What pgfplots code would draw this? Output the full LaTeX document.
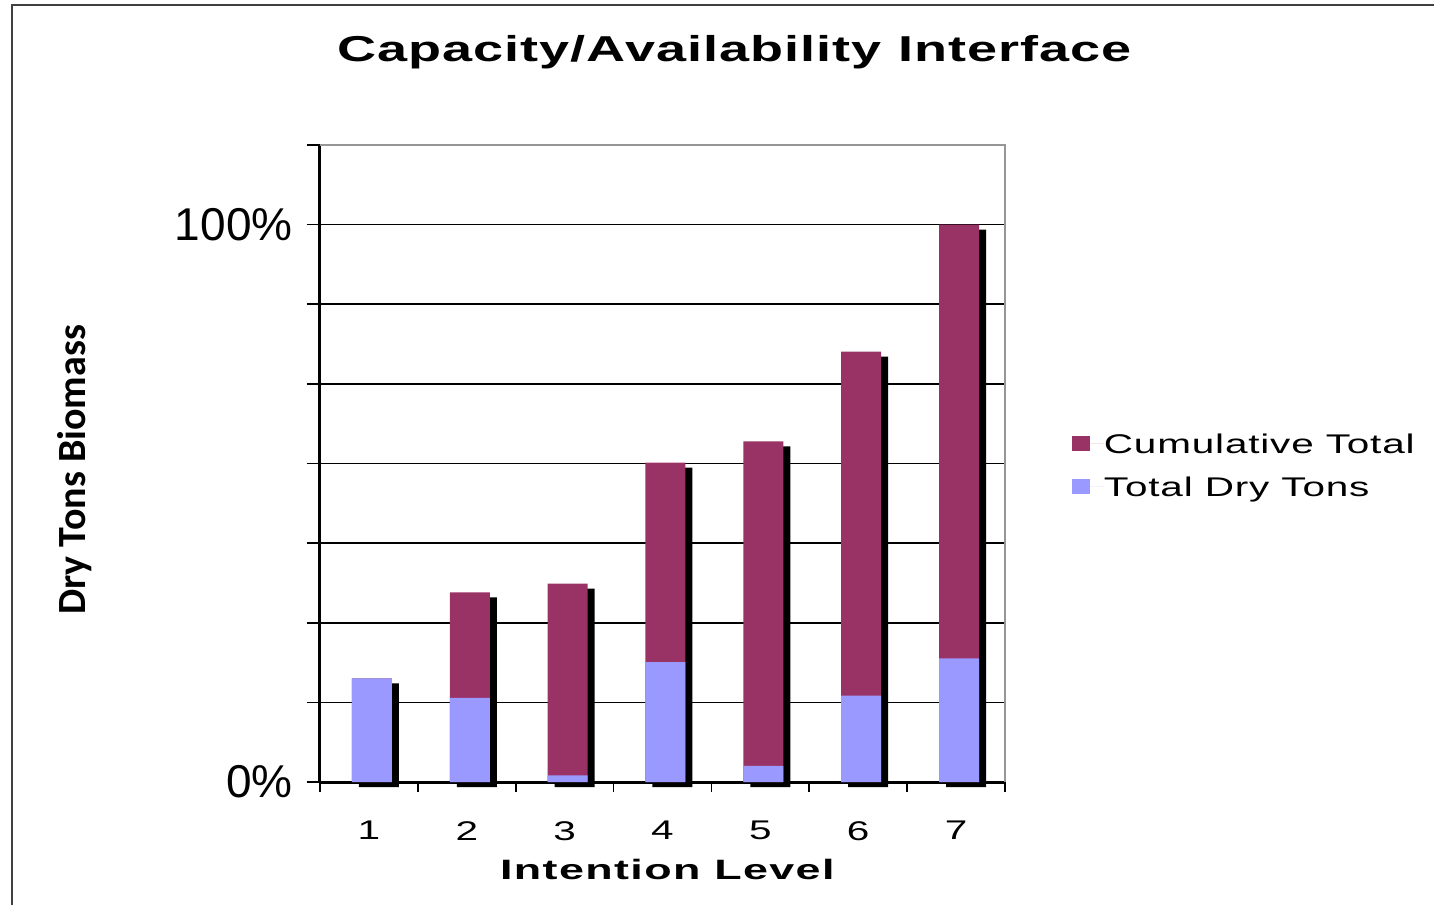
\documentclass[border=0pt]{standalone}
\usepackage{pgfplots}
\pgfplotsset{compat=1.18}
\usepackage{fontspec}
\setmainfont{Liberation Sans}
\newfontfamily\widefont[FakeStretch=1.5,LetterSpace=3]{Liberation Sans}
\newfontfamily\widebold[FakeStretch=1.6,LetterSpace=5]{Liberation Sans}
\newfontfamily\titlefont[FakeStretch=1.5,LetterSpace=3]{Liberation Sans}
\newfontfamily\calibri{Carlito}
\definecolor{maroon}{HTML}{993366}
\definecolor{lblue}{HTML}{9999FF}
\definecolor{bordergray}{HTML}{969696}
\definecolor{framegray}{HTML}{404040}
\begin{document}
\begin{tikzpicture}
\begin{axis}[
  scale only axis,
  width=342.5pt, height=318.5pt,
  clip=false,
  xmin=0.5, xmax=7.5,
  ymin=0, ymax=114.2857,
  ybar, bar width=20pt,
  axis x line*=bottom, axis y line*=left,
  axis line style={-, black, line width=1.5pt},
  xtick={1,2,3,4,5,6,7},
  xticklabels={1,2,3,4,5,6,7},
  major x tick style={draw=none},
  minor xtick={0.5,1.5,2.5,3.5,4.5,5.5,6.5,7.5},
  minor x tick style={black, line width=0.8pt},
  minor tick length=5pt,
  ytick={0,14.2857,28.5714,42.8571,57.1429,71.4286,85.7143,100,114.2857},
  yticklabels={0\%,,,,,,,100\%,},
  ytick style={black, line width=0.8pt},
  major tick length=6.5pt,
  tick align=outside,
  ymajorgrids,
  grid style={black, line width=0.8pt},
  yticklabel style={font=\fontsize{23}{23}\selectfont, anchor=east, inner sep=0pt},
  yticklabel shift=7pt,
  xticklabel style={font=\fontsize{13.5}{13.5}\selectfont\widefont, anchor=north, inner sep=0pt},
  xticklabel shift=13pt,
  xlabel={Intention Level},
  xlabel style={font=\fontsize{14}{14}\selectfont\widebold\bfseries, at={(axis description cs:0.507,-0.1523)}, anchor=base},
  ylabel={Dry Tons Biomass},
  ylabel style={font=\fontsize{20}{20}\selectfont\calibri\bfseries, at={(axis description cs:-0.343,0.49)}, anchor=base, rotate=0},
  title={Capacity/Availability Interface},
  title style={font=\fontsize{18}{18}\selectfont\titlefont\bfseries, at={(axis description cs:0.6051,1.113)}, anchor=base},
  legend style={at={(axis description cs:1.0978,0.498)}, anchor=west, draw=none, fill=none, inner sep=0pt, outer sep=0pt,
    row sep=11.5pt, cells={anchor=west},
    nodes={inner sep=0pt, text height=10pt, text depth=0pt},
    font=\fontsize{13.5}{13.5}\selectfont\widefont},
  after end axis/.code={\draw[bordergray, line width=1.2pt] (rel axis cs:0,1) -- (rel axis cs:1,1) -- (rel axis cs:1,0);},
]
% shadow
\addplot[fill=black, draw=none, bar shift=5pt, yshift=-2.5pt, forget plot]
  coordinates {(1,18.6) (2,34.0) (3,35.6) (4,57.3) (5,61.1) (6,77.2) (7,100)};
% cumulative total
\addplot[fill=maroon, draw=none, bar shift=1.5pt,
  legend image code/.code={\fill[maroon] (0pt,-3.75pt) rectangle (9pt,3.75pt); \path (0pt,0pt) -- (16pt,0pt);}]
  coordinates {(1,18.6) (2,34.0) (3,35.6) (4,57.3) (5,61.1) (6,77.2) (7,100)};
\addlegendentry{Cumulative Total}
% total dry tons
\addplot[fill=lblue, draw=none, bar shift=1.5pt,
  legend image code/.code={\fill[lblue] (0pt,-3.75pt) rectangle (9pt,3.75pt); \path (0pt,0pt) -- (16pt,0pt);}]
  coordinates {(1,18.6) (2,15.1) (3,1.2) (4,21.5) (5,2.9) (6,15.5) (7,22.2)};
\addlegendentry{Total Dry Tons}
\end{axis}
\draw[framegray, line width=1pt] (-154pt,-61.5pt) -- (-154pt,388.5pt) -- (557pt,388.5pt);
\pgfresetboundingbox
\useasboundingbox (-160pt,-61.5pt) rectangle (557pt,391pt);
\end{tikzpicture}
\end{document}
